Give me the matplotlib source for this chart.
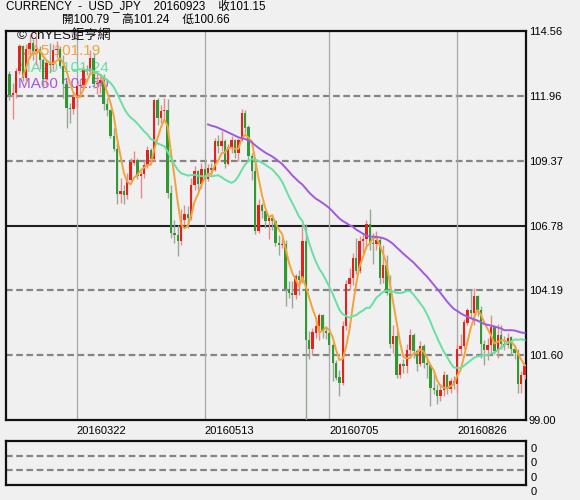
import numpy as np
import pandas as pd
import matplotlib
matplotlib.use('Agg')
import matplotlib.pyplot as plt

plt.rcParams['font.family'] = ['Liberation Sans', 'Noto Sans CJK TC']

# daily USD/JPY candles, 2016-02-23 .. 2016-09-23 (weekdays)
dates = pd.bdate_range('2016-02-23', '2016-09-23')

opens = [112.85, 112.00, 112.10, 112.95, 113.95, 112.70, 113.85, 114.10, 113.75, 113.85,
         113.40, 112.65, 113.30, 113.20, 113.80, 113.85, 113.15, 112.45, 111.50, 111.45,
         111.90, 112.35, 112.40, 113.05, 112.95, 113.50, 112.45, 112.50, 112.60, 111.65,
         111.40, 110.35, 109.85, 108.05, 108.15, 108.00, 108.60, 109.30, 109.40, 108.75,
         108.85, 109.20, 109.80, 109.45, 111.80, 111.10, 111.35, 111.40, 108.10, 106.50,
         106.40, 106.15, 107.00, 107.25, 107.10, 108.40, 108.95, 108.45, 109.05, 108.65,
         109.10, 109.00, 110.15, 109.95, 110.15, 109.25, 109.90, 110.20, 109.70, 110.20,
         111.30, 110.70, 109.55, 108.95, 106.55, 107.60, 107.35, 106.95, 107.10, 106.95,
         106.10, 106.00, 106.05, 104.25, 104.10, 104.00, 104.75, 104.60, 106.15, 102.20,
         101.85, 102.50, 102.75, 103.20, 102.55, 102.50, 102.00, 101.30, 100.70, 100.50,
         102.75, 104.45, 104.70, 105.50, 104.95, 106.15, 106.25, 106.85, 106.10, 106.05,
         106.20, 104.70, 105.20, 104.10, 102.05, 102.35, 100.80, 101.25, 101.15, 101.80,
         102.40, 101.75, 101.25, 101.95, 101.30, 101.20, 100.30, 100.20, 99.95, 100.20,
         100.80, 100.25, 100.55, 100.45, 101.85, 101.95, 102.90, 103.40, 103.30, 103.95,
         103.40, 102.05, 101.80, 102.00, 102.70, 101.75, 102.40, 102.05, 102.00, 102.30,
         101.85, 101.70, 100.45, 100.79]
highs = [112.95, 112.50, 113.10, 114.05, 114.00, 114.05, 114.45, 114.25, 114.50, 113.95,
         113.50, 113.45, 114.10, 114.05, 114.15, 113.95, 113.60, 112.55, 111.70, 112.10,
         112.50, 112.65, 113.15, 113.20, 113.80, 113.70, 112.90, 112.75, 112.85, 111.90,
         111.45, 110.70, 110.10, 108.70, 108.40, 108.90, 109.50, 109.75, 109.50, 108.95,
         109.40, 109.95, 109.90, 111.85, 111.90, 111.60, 111.90, 111.85, 108.40, 107.00,
         106.80, 107.45, 107.60, 107.55, 108.70, 109.15, 109.00, 109.30, 109.35, 109.25,
         109.30, 110.30, 110.40, 110.55, 110.25, 110.05, 110.35, 110.25, 110.30, 111.45,
         111.40, 110.80, 109.70, 109.40, 107.85, 107.70, 107.40, 107.15, 107.25, 107.00,
         106.40, 106.30, 106.20, 104.55, 104.55, 104.85, 105.00, 106.85, 106.85, 102.55,
         102.70, 103.05, 103.30, 103.25, 102.75, 102.70, 102.10, 101.40, 101.00, 102.95,
         104.60, 105.10, 105.70, 106.30, 106.35, 106.50, 107.00, 107.45, 106.50, 106.55,
         106.30, 106.00, 105.60, 104.80, 102.80, 102.60, 101.30, 101.45, 102.05, 102.65,
         102.50, 101.85, 102.15, 102.05, 101.50, 101.25, 100.95, 100.45, 100.45, 100.95,
         100.85, 100.70, 100.75, 102.05, 102.45, 103.05, 103.50, 104.20, 104.30, 104.00,
         103.55, 102.20, 102.30, 103.20, 102.75, 102.85, 102.80, 102.35, 102.50, 102.35,
         102.00, 101.85, 100.95, 101.24]
lows = [111.80, 111.04, 111.90, 112.85, 112.55, 112.50, 113.50, 113.40, 113.20, 113.05,
        112.30, 112.40, 112.90, 113.00, 113.50, 113.10, 111.90, 110.67, 110.90, 111.25,
        111.50, 112.00, 112.30, 112.80, 112.90, 112.30, 112.05, 112.10, 111.40, 111.15,
        110.30, 109.75, 107.65, 107.70, 107.65, 107.85, 108.50, 109.20, 108.65, 107.90,
        108.70, 109.10, 109.30, 109.35, 110.80, 110.90, 111.00, 107.90, 106.30, 106.10,
        105.55, 106.00, 106.80, 106.70, 107.00, 108.20, 108.20, 108.30, 108.60, 108.55,
        108.80, 108.95, 109.70, 109.75, 109.10, 109.20, 109.70, 109.50, 109.35, 110.15,
        110.50, 109.40, 108.60, 106.45, 106.50, 107.10, 106.70, 106.25, 106.60, 105.95,
        105.60, 105.90, 103.55, 103.90, 103.50, 103.85, 104.00, 104.50, 99.00, 101.45,
        101.60, 102.30, 102.20, 102.30, 102.25, 101.70, 100.55, 100.60, 99.95, 100.40,
        102.60, 104.20, 104.40, 104.85, 104.90, 105.70, 105.85, 105.80, 105.25, 105.80,
        104.45, 104.50, 104.00, 101.90, 101.70, 100.70, 100.70, 100.90, 100.90, 101.65,
        101.50, 100.95, 101.15, 101.10, 100.70, 99.55, 100.05, 99.65, 99.75, 99.95,
        100.05, 100.10, 100.25, 100.10, 101.60, 101.85, 102.80, 103.10, 102.80, 103.15,
        101.50, 101.20, 101.40, 101.70, 101.65, 101.50, 101.85, 101.80, 101.90, 101.60,
        101.45, 100.10, 100.10, 100.66]
closes = [112.00, 112.10, 112.95, 113.95, 112.70, 113.85, 114.10, 113.75, 113.85, 113.40,
          112.65, 113.30, 113.20, 113.80, 113.85, 113.15, 112.45, 111.50, 111.45, 111.90,
          112.35, 112.40, 113.05, 112.95, 113.50, 112.45, 112.50, 112.60, 111.65, 111.40,
          110.35, 109.85, 108.05, 108.15, 108.00, 108.60, 109.30, 109.40, 108.75, 108.85,
          109.20, 109.80, 109.45, 111.80, 111.10, 111.35, 111.40, 108.10, 106.50, 106.40,
          106.15, 107.00, 107.25, 107.10, 108.40, 108.95, 108.45, 109.05, 108.65, 109.10,
          109.00, 110.15, 109.95, 110.15, 109.25, 109.90, 110.20, 109.70, 110.20, 111.30,
          110.70, 109.55, 108.95, 106.55, 107.60, 107.35, 106.95, 107.10, 106.95, 106.10,
          106.00, 106.05, 104.25, 104.10, 104.00, 104.75, 104.60, 106.15, 102.20, 101.85,
          102.50, 102.75, 103.20, 102.55, 102.50, 102.00, 101.30, 100.70, 100.50, 102.75,
          104.45, 104.70, 105.50, 104.95, 106.15, 106.25, 106.85, 106.10, 106.05, 106.20,
          104.70, 105.20, 104.10, 102.05, 102.35, 100.80, 101.25, 101.15, 101.80, 102.40,
          101.75, 101.25, 101.95, 101.30, 101.20, 100.30, 100.20, 99.95, 100.20, 100.80,
          100.25, 100.55, 100.45, 101.85, 101.95, 102.90, 103.40, 103.30, 103.95, 103.40,
          102.05, 101.80, 102.00, 102.70, 101.75, 102.40, 102.05, 102.00, 102.30, 101.85,
          101.70, 100.45, 100.79, 101.15]

y_ticks = [99.00, 101.60, 104.19, 106.78, 109.37, 111.96, 114.56]
y_labels = ['99.00', '101.60', '104.19', '106.78', '109.37', '111.96', '114.56']
x_tick_dates = ['20160322', '20160513', '20160705', '20160826']

header1 = 'CURRENCY  -  USD_JPY    20160923    收101.15'
header2 = '開100.79    高101.24    低100.66'
ma_labels = ['MA5 101.19', 'MA20 101.24', 'MA60 102.50']
ma_windows = [5, 20, 60]
ma_colors = ['#f2a33a', '#66e0a3', '#a259e0']

df = pd.DataFrame({'o': opens, 'h': highs, 'l': lows, 'c': closes}, index=dates)
x = np.arange(len(df))
up = df['c'] >= df['o']

bg = '#f0f0f0'
fig = plt.figure(figsize=(5.8, 5.0), dpi=100, facecolor=bg)
ax = fig.add_axes([6 / 580, 80 / 500, 520 / 580, 389 / 500], facecolor=bg)
ax2 = fig.add_axes([6 / 580, 15 / 500, 520 / 580, 44 / 500], facecolor=bg)

# grid
for v in y_ticks[1:-1]:
    if v == 106.78:
        ax.axhline(v, color='#202020', lw=1.5, zorder=1)
    else:
        ax.axhline(v, color='#858585', lw=1.6, ls=(0, (3, 1.6)), zorder=1)
tick_idx = [list(df.index.strftime('%Y%m%d')).index(d) for d in x_tick_dates]
for t in tick_idx:
    ax.axvline(t, color='#a8a8a8', lw=0.9, zorder=1)

# candles
red, green = '#e3221c', '#2f9a2f'
ax.vlines(x[up], df['l'][up], df['h'][up], color='#e88a8a', lw=1, zorder=3)
ax.vlines(x[~up], df['l'][~up], df['h'][~up], color='#98a898', lw=1, zorder=3)
body = (df['c'] - df['o']).abs().clip(lower=0.04)
bottom = df[['o', 'c']].min(axis=1)
ax.bar(x[up], body[up], bottom=bottom[up], width=0.7, color=red, zorder=3)
ax.bar(x[~up], body[~up], bottom=bottom[~up], width=0.7, color=green, zorder=3)

# moving averages
for w, col in zip(ma_windows, ma_colors):
    ma = df['c'].rolling(w).mean()
    ax.plot(x, ma.values, color=col, lw=1.4, zorder=4)

ax.text(0.021, 0.988, '© cnYES鉅亨網', transform=ax.transAxes, fontsize=9.5,
        va='center', ha='left', color='#101010', zorder=2)
for i, (lab, col) in enumerate(zip(ma_labels, ma_colors)):
    ax.text(0.023, [0.949, 0.906, 0.865][i], lab, transform=ax.transAxes,
            fontsize=11, va='center', ha='left', color=col, zorder=2)

ax.set_xlim(-1, len(df) - 0.6)
ax.set_ylim(y_ticks[0], y_ticks[-1])
ax.yaxis.tick_right()
ax.set_yticks(y_ticks)
ax.set_yticklabels(y_labels)
ax.set_xticks(tick_idx)
ax.set_xticklabels(x_tick_dates, ha='left')
ax.tick_params(axis='y', length=0, pad=2, labelsize=8)
ax.tick_params(axis='x', length=0, pad=4, labelsize=8)
for s in ax.spines.values():
    s.set_linewidth(1.6)
    s.set_color('#111111')

# lower empty panel
ax2.set_ylim(0, 1)
ax2.set_xlim(0, 1)
for v in [0.659, 0.341]:
    ax2.axhline(v, color='#858585', lw=1.6, ls=(0, (3, 1.6)))
for v in [0.818, 0.5, 0.159, -0.159]:
    ax2.text(1.008, v, '0', transform=ax2.transAxes, fontsize=8, va='center', ha='left')
ax2.set_xticks([])
ax2.set_yticks([])
for s in ax2.spines.values():
    s.set_linewidth(1.6)
    s.set_color('#111111')

fig.text(6 / 580, 1 - 7 / 500, header1, fontsize=8.4, va='center', ha='left')
fig.text(62 / 580, 1 - 19.5 / 500, header2, fontsize=8.4, va='center', ha='left')

fig.savefig('out.png', dpi=100, facecolor=bg)
